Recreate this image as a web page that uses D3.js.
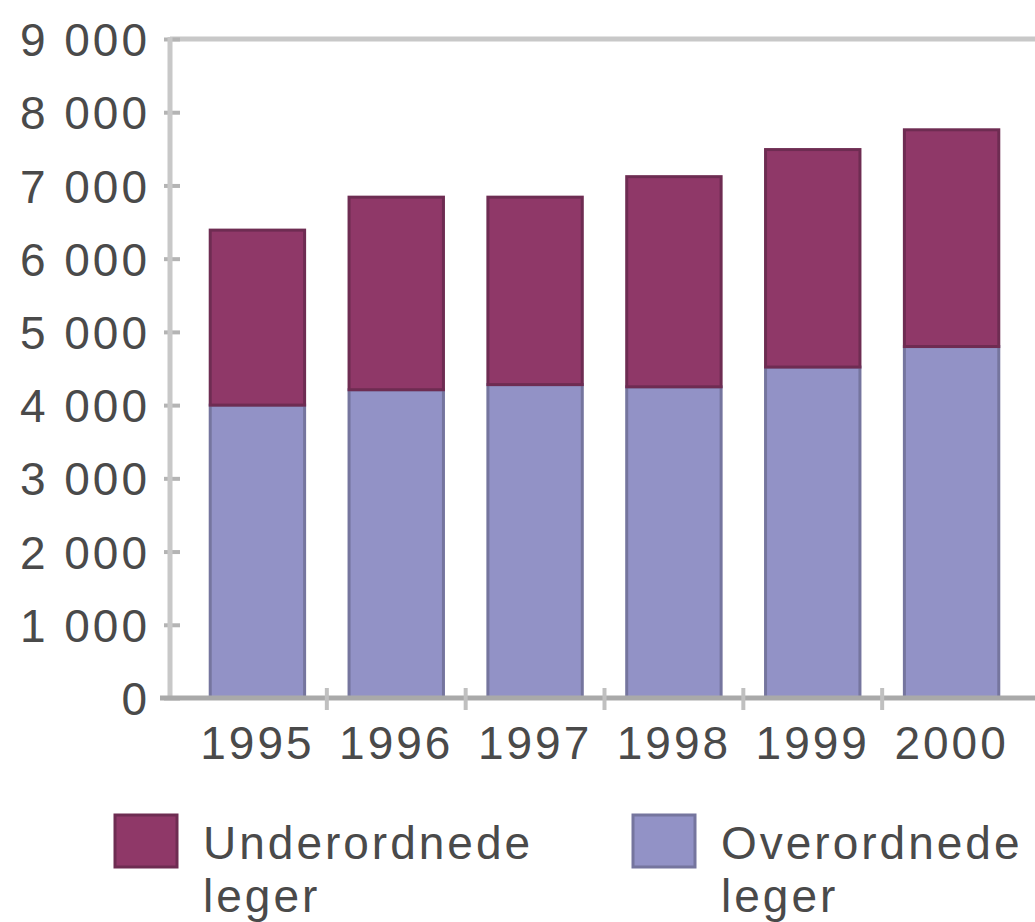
<!DOCTYPE html>
<html>
<head>
<meta charset="utf-8">
<script src="https://cdn.jsdelivr.net/npm/d3@7"></script>
<style>
  body { margin: 0; background: #fff; }
  svg { display: block; font-family: "Liberation Sans", Arial, Helvetica, sans-serif; }
  .lbl { fill: #4a4a4a; font-size: 46px; letter-spacing: 3px; }
</style>
</head>
<body>
<div id="chart"></div>
<script>
// Data
const years = ['1995', '1996', '1997', '1998', '1999', '2000'];
const overordnede = [4000, 4210, 4280, 4250, 4520, 4800];
const underordnede = [2390, 2630, 2560, 2870, 2970, 2960];
const yTicks = [0, 1000, 2000, 3000, 4000, 5000, 6000, 7000, 8000, 9000];
const yTickLabels = ['0', '1 000', '2 000', '3 000', '4 000', '5 000', '6 000', '7 000', '8 000', '9 000'];
const seriesNames = ['Underordnede', 'Overordnede'];
const seriesColors = ['#8f3868', '#9292c6'];
const seriesStrokes = ['#6e2c52', '#75759e'];

const WIDTH = 1035, HEIGHT = 922;
const AXIS_X = 170;

const svg = d3.select('#chart').append('svg')
    .attr('width', WIDTH)
    .attr('height', HEIGHT);

// Scales
const x = d3.scaleBand()
    .domain(years)
    .range([188, 1021])
    .paddingInner(0.32)
    .paddingOuter(0.16);

const y = d3.scaleLinear()
    .domain([0, 9000])
    .range([698, 39]);

// Stack the two series (overordnede at the bottom)
const rows = years.map((yr, i) => ({ year: yr, over: overordnede[i], under: underordnede[i] }));
const stacked = d3.stack().keys(['over', 'under'])(rows);

// Top gridline
svg.append('line')
    .attr('x1', AXIS_X).attr('x2', WIDTH)
    .attr('y1', y(9000)).attr('y2', y(9000))
    .attr('stroke', '#c8c8c8')
    .attr('stroke-width', 5);

// Y axis
const yAxis = d3.axisLeft(y)
    .tickValues(yTicks)
    .tickFormat((d, i) => yTickLabels[i])
    .tickSize(7);

const yg = svg.append('g')
    .attr('transform', `translate(${AXIS_X},0)`)
    .call(yAxis);
yg.select('.domain').remove();
yg.selectAll('.tick line')
    .attr('x1', -6).attr('x2', 10)
    .attr('stroke', '#b4b4b4')
    .attr('stroke-width', 4);
yg.selectAll('.tick text')
    .attr('class', 'lbl')
    .attr('x', -20)
    .attr('dy', '0.36em')
    .attr('font-size', null)
    .attr('fill', null)
    .attr('text-anchor', 'end');

svg.append('line')
    .attr('x1', AXIS_X).attr('x2', AXIS_X)
    .attr('y1', y(9000) - 2).attr('y2', y(0))
    .attr('stroke', '#c8c8c8')
    .attr('stroke-width', 5);

// Bars
const colorByKey = { over: seriesColors[1], under: seriesColors[0] };
const strokeByKey = { over: seriesStrokes[1], under: seriesStrokes[0] };

svg.append('g')
    .selectAll('g')
    .data(stacked)
    .join('g')
    .attr('fill', d => colorByKey[d.key])
    .attr('stroke', d => strokeByKey[d.key])
    .attr('stroke-width', 3)
    .selectAll('rect')
    .data(d => d)
    .join('rect')
    .attr('x', d => x(d.data.year))
    .attr('y', d => y(d[1]))
    .attr('width', x.bandwidth())
    .attr('height', d => y(d[0]) - y(d[1]));

// X axis
const xAxis = d3.axisBottom(x).tickSize(0).tickPadding(28);
const xg = svg.append('g')
    .attr('transform', `translate(0,${y(0)})`)
    .call(xAxis);
xg.select('.domain').remove();
xg.selectAll('.tick text')
    .attr('class', 'lbl')
    .attr('font-size', null)
    .attr('fill', null)
    .attr('dy', '0.71em');

svg.append('line')
    .attr('x1', 160).attr('x2', WIDTH)
    .attr('y1', y(0)).attr('y2', y(0))
    .attr('stroke', '#a9a9a9')
    .attr('stroke-width', 5);

// Tick marks between the categories
const boundaries = years.slice(1).map(yr => x(yr) - x.step() * x.paddingInner() / 2);
svg.append('g')
    .selectAll('line')
    .data(boundaries)
    .join('line')
    .attr('x1', d => d).attr('x2', d => d)
    .attr('y1', y(0) - 10).attr('y2', y(0) + 12)
    .attr('stroke', '#c0c0c0')
    .attr('stroke-width', 4);

// Legend
const legendItems = [
    { name: seriesNames[0], color: seriesColors[0], stroke: seriesStrokes[0], x: 115 },
    { name: seriesNames[1], color: seriesColors[1], stroke: seriesStrokes[1], x: 633 }
];
const legend = svg.append('g')
    .selectAll('g')
    .data(legendItems)
    .join('g')
    .attr('transform', d => `translate(${d.x},815)`);

legend.append('rect')
    .attr('width', 62)
    .attr('height', 52)
    .attr('fill', d => d.color)
    .attr('stroke', d => d.stroke)
    .attr('stroke-width', 3);

legend.append('text')
    .attr('class', 'lbl')
    .attr('x', 88)
    .attr('y', 44)
    .text(d => d.name);

legend.append('text')
    .attr('class', 'lbl')
    .attr('x', 88)
    .attr('y', 97)
    .text('leger');
</script>
</body>
</html>
